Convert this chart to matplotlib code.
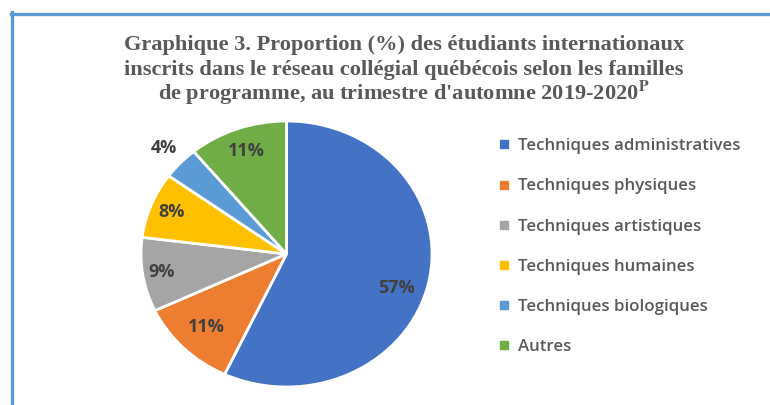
import matplotlib
matplotlib.use("Agg")
import matplotlib.pyplot as plt
from matplotlib.lines import Line2D
import numpy as np

# data
categories = ["Techniques administratives", "Techniques physiques", "Techniques artistiques",
              "Techniques humaines", "Techniques biologiques", "Autres"]
shares = [57, 11, 9, 8, 4, 11]
pct_labels = ["57%", "11%", "9%", "8%", "4%", "11%"]
colors = ["#4472c4", "#ed7d31", "#a5a5a5", "#ffc000", "#5b9bd5", "#70ad47"]
label_dist = [0.80, 0.78, 0.87, 0.85, 1.16, 0.82]
label_turn = [-6, 0, 0, 0, 0, 0]  # small angular nudge, degrees

title_lines = ["Graphique 3. Proportion (%) des étudiants internationaux",
               "inscrits dans le réseau collégial québécois selon les familles",
               "de programme, au trimestre d'automne 2019-2020$^{\\mathbf{P}}$"]

plt.rcParams["mathtext.fontset"] = "stix"

fig = plt.figure(figsize=(7.7, 4.05), dpi=100)

# blue frame (left and top edges visible)
fig.add_artist(Line2D([12.5 / 770, 12.5 / 770], [0, 1 - 12 / 405], color="#5b9bd5", lw=2.4,
                      transform=fig.transFigure))
fig.add_artist(Line2D([11 / 770, 1], [1 - 13.5 / 405, 1 - 13.5 / 405], color="#5b9bd5", lw=2.4,
                      transform=fig.transFigure))

for i, line in enumerate(title_lines):
    fig.text(404 / 770, 1 - (50 + 25 * i) / 405, line, ha="center", va="baseline",
             family="Liberation Serif", fontweight="bold", fontsize=16.1, color="#595959")

ax = fig.add_axes([141 / 770, 18 / 405, 291 / 770, 266 / 405])
wedges, _ = ax.pie(shares, colors=colors, startangle=90, counterclock=False,
                   wedgeprops=dict(edgecolor="white", linewidth=2))
ax.set_aspect("auto")
ax.set_xlim(-1, 1)
ax.set_ylim(-1, 1)

for w, lab, r, turn in zip(wedges, pct_labels, label_dist, label_turn):
    th = np.deg2rad((w.theta1 + w.theta2) / 2 + turn)
    ax.text(r * np.cos(th), r * np.sin(th), lab, ha="center", va="center",
            family="Open Sans", fontweight="bold", fontsize=13, color="#404040")

handles = [Line2D([], [], marker="s", linestyle="none", markersize=6, color=c) for c in colors]
leg = fig.legend(handles, categories, loc="upper left", bbox_to_anchor=(483 / 770, 1 - 123 / 405),
                 frameon=False, handlelength=0.7, handletextpad=0.45, labelspacing=1.43,
                 prop=dict(family="Open Sans", weight="semibold", size=12.2))
for t in leg.get_texts():
    t.set_color("#595959")

fig.savefig("out.png", dpi=100)
